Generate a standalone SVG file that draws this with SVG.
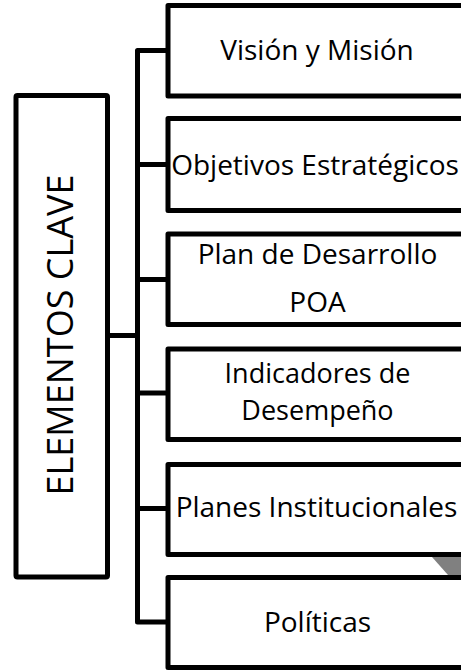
<svg xmlns="http://www.w3.org/2000/svg" width="461" height="670" viewBox="0 0 461 670">
<style>
.box{fill:#fff;stroke:#000;stroke-width:5;stroke-linejoin:round}
.conn{fill:none;stroke:#000;stroke-width:5;stroke-linejoin:round;stroke-linecap:butt}
.t{font-family:"Open Sans","Noto Sans","Liberation Sans",sans-serif;font-size:28px;fill:#000;text-anchor:middle}
.ts{font-family:"Open Sans","Noto Sans","Liberation Sans",sans-serif;font-size:27px;fill:#000;text-anchor:middle}
.tm{font-family:"Open Sans","Noto Sans","Liberation Sans",sans-serif;font-size:36px;fill:#000;text-anchor:middle}
</style>
<rect width="461" height="670" fill="#fff"/>
<g id="connectors">
<path class="conn" d="M168,50.5 H137.5 V622 H168"/>
<path class="conn" d="M107.5,335.5 H137.5"/>
<path class="conn" d="M137.5,164.5 H168"/>
<path class="conn" d="M137.5,279.5 H168"/>
<path class="conn" d="M137.5,393 H168"/>
<path class="conn" d="M137.5,508.5 H168"/>
</g>
<g id="main">
<rect class="box" x="16" y="95.5" width="91.5" height="481.5" rx="1.5"/>
<text class="tm" transform="translate(72.7,335) rotate(-90)">ELEMENTOS CLAVE</text>
</g>
<g id="n1">
<rect class="box" x="168" y="5.5" width="300" height="90.5"/>
<text class="t" x="317" y="60">Visión y Misión</text>
</g>
<g id="n2">
<rect class="box" x="168" y="118.5" width="300" height="92"/>
<text class="t" x="315" y="175">Objetivos Estratégicos</text>
</g>
<g id="n3">
<rect class="box" x="168" y="234" width="300" height="90.5"/>
<text class="t" x="317.5" y="263.5">Plan de Desarrollo</text>
<text class="t" x="317.5" y="311.5">POA</text>
</g>
<g id="n4">
<rect class="box" x="168" y="349" width="300" height="90.5"/>
<text class="ts" x="317.5" y="383">Indicadores de</text>
<text class="ts" x="317.5" y="420">Desempeño</text>
</g>
<g id="n5">
<rect class="box" x="168" y="464.5" width="300" height="90"/>
<text class="t" x="316.5" y="516.5">Planes Institucionales</text>
</g>
<polygon points="432,557 461,557 461,575 448,575" fill="#808080"/>
<g id="n6">
<rect class="box" x="168" y="577.5" width="300" height="90"/>
<text class="t" x="317.5" y="631.5">Políticas</text>
</g>
</svg>
